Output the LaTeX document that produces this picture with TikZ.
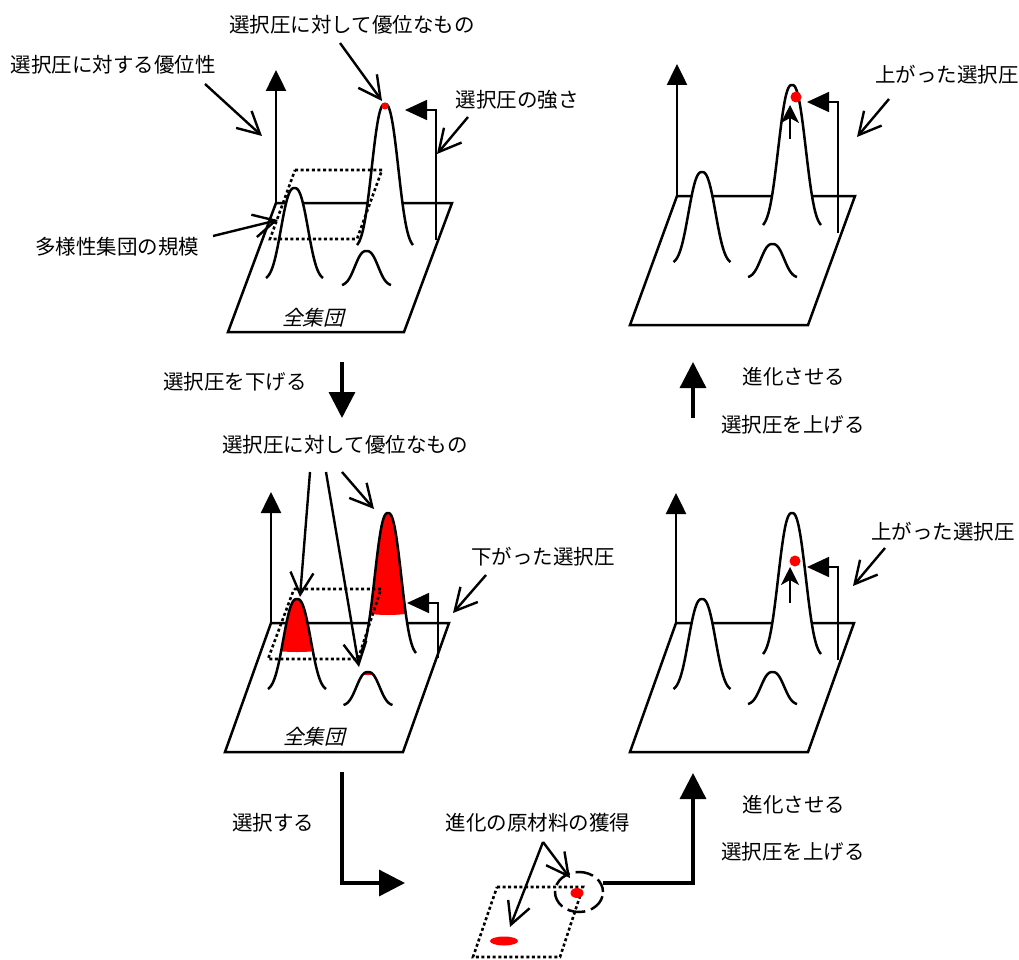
\documentclass[tikz,border=0pt]{standalone}
\usepackage{fontspec}
\newfontfamily\jp{Noto Sans CJK JP}
\newfontfamily\jpit[FakeSlant=0.25]{Noto Sans CJK JP}
\usetikzlibrary{arrows.meta}
\newcommand\peakpath[4]{plot[domain=-1:1,samples=61,smooth,variable=\t] ({#1+#4*\t},{#2-(#2-#3)*(exp(-(1.7*\t)^2*sqrt(1.7*abs(\t)))-0.023)/0.977})}
\newcommand\mypeak[4]{%
  \fill[white] \peakpath{#1}{#2}{#3}{#4} -- cycle;
  \draw[pk] \peakpath{#1}{#2}{#3}{#4};}
\newcommand\myredpeak[6]{%
  \fill[white] \peakpath{#1}{#2}{#3}{#4} -- cycle;
  \begin{scope}
    \clip \peakpath{#1}{#2}{#3}{#4} -- cycle;
    \fill[red] (#1-#4,#3-5) rectangle (#1+#4,#5);
    \fill[red] (#1,#5) ellipse[x radius=#4pt, y radius=#6pt];
  \end{scope}
  \draw[pk] \peakpath{#1}{#2}{#3}{#4};}
\tikzset{
  pk/.style={line width=2.5pt, line join=round},
  plane/.style={line width=2.5pt, line join=miter},
  axis/.style={line width=2.5pt, -{Triangle[length=21pt,width=20pt]}},
  dots/.style={line width=2.6pt, dash pattern=on 3pt off 2.6pt},
  press/.style={line width=1.6pt, -{Triangle[length=22pt,width=20pt]}},
  uparr/.style={line width=1.8pt, -{Stealth[length=18pt,width=18pt,inset=5pt]}},
  lab/.style={font=\jp\fontsize{20.5}{24}\selectfont, inner sep=0pt},
  labit/.style={font=\jpit\fontsize{20.5}{24}\selectfont, inner sep=0pt},
  barb/.style={line width=2.4pt, -{Straight Barb[length=22pt,width=23pt]}},
  bigarr/.style={line width=3.3pt, line join=miter, -{Triangle[length=26pt,width=26pt]}},
}
\begin{document}
\begin{tikzpicture}[x=1pt,y=-1pt]
\useasboundingbox (0,0) rectangle (1019,960);

% ================= top-left panel =================
\draw[plane] (276,203) -- (228,332) -- (404,332) -- (452,203) -- cycle;
\coordinate (tlo) at (276,203);
\coordinate (tlax) at (276,70);
\draw[axis] (tlo) -- (tlax);
\mypeak{294.5}{278}{188}{28.5}
\mypeak{385}{245}{104}{28}
\mypeak{366.5}{285}{251}{24.5}
\draw[dots] (295,170) -- (382,170) -- (357,239) -- (270,239) -- cycle;
\coordinate (tlp0) at (436,240);
\coordinate (tlp1) at (436,110);
\coordinate (tlp2) at (405,110);
\draw[press] (tlp0) -- (tlp1) -- (tlp2);
\fill[red] (385,106) circle[radius=3.5pt];
\node[labit] (tlall) at (313,318) {全集団};

\node[lab] (l1) at (113,65) {選択圧に対する優位性};
\node[lab] (l2) at (352,25) {選択圧に対して優位なもの};
\node[lab] (l3) at (517,100) {選択圧の強さ};
\node[lab] (l4) at (117,247) {多様性集団の規模};
\coordinate (l1s) at (205,84);  \coordinate (l1e) at (262,136);
\coordinate (l2s) at (340,43);  \coordinate (l2e) at (382,101);
\coordinate (l3s) at (468,117); \coordinate (l3e) at (437,154);
\coordinate (l4s) at (213,236); \coordinate (l4e) at (278,220);
\draw[barb] (l1s) -- (l1e);
\draw[barb] (l2s) -- (l2e);
\draw[barb] (l3s) -- (l3e);
\draw[barb] (l4s) -- (l4e);

% ================= top-right panel =================
\draw[plane] (677,196) -- (630,325) -- (808,325) -- (855,196) -- cycle;
\coordinate (tro) at (677,196);
\coordinate (trax) at (677,64);
\draw[axis] (tro) -- (trax);
\mypeak{702}{262}{172}{28.5}
\mypeak{792}{225}{85}{29}
\mypeak{772.5}{277}{244}{24.5}
\coordinate (tru0) at (790,139);
\coordinate (tru1) at (790,105);
\draw[uparr] (tru0) -- (tru1);
\fill[red] (796,97) circle[radius=5.5pt];
\coordinate (trp0) at (838,233);
\coordinate (trp1) at (838,102);
\coordinate (trp2) at (807,102);
\draw[press] (trp0) -- (trp1) -- (trp2);
\node[lab] (l5) at (947,75) {上がった選択圧};
\coordinate (l5s) at (889,99); \coordinate (l5e) at (857,137);
\draw[barb] (l5s) -- (l5e);

% ================= middle arrows =================
\node[lab] (l6) at (235,382) {選択圧を下げる};
\coordinate (d0) at (342,362); \coordinate (d1) at (342,418);
\draw[bigarr] (d0) -- (d1);
\coordinate (u0) at (693,418); \coordinate (u1) at (693,362);
\draw[bigarr] (u0) -- (u1);
\node[lab] (l7) at (794,377) {進化させる};
\node[lab] (l8) at (793,425) {選択圧を上げる};

% ================= bottom-left panel =================
\draw[plane] (271,623) -- (225,752) -- (403,752) -- (449,623) -- cycle;
\coordinate (blo) at (271,623);
\coordinate (blax) at (271,492);
\draw[axis] (blo) -- (blax);
\myredpeak{297}{689}{599}{29}{648}{4}
\myredpeak{388}{653}{513}{28}{610}{5}
\myredpeak{368}{705}{672}{24.5}{673}{2}
\draw[dots] (294,589) -- (381,589) -- (358,659) -- (268,659) -- cycle;
\coordinate (blp0) at (438,658);
\coordinate (blp1) at (438,603);
\coordinate (blp2) at (407,603);
\draw[press] (blp0) -- (blp1) -- (blp2);
\node[labit] (blall) at (314,737) {全集団};
\node[lab] (l9) at (345,445) {選択圧に対して優位なもの};
\node[lab] (l10) at (543,557) {下がった選択圧};
\coordinate (l9a) at (310,472); \coordinate (l9ae) at (300,597);
\coordinate (l9b) at (326,472); \coordinate (l9be) at (359,667);
\coordinate (l9c) at (342,472); \coordinate (l9ce) at (374,509);
\draw[barb] (l9a) -- (l9ae);
\draw[barb] (l9b) -- (l9be);
\draw[barb] (l9c) -- (l9ce);
\coordinate (l10s) at (486,575); \coordinate (l10e) at (453,613);
\draw[barb] (l10s) -- (l10e);

% ================= bottom-right panel =================
\draw[plane] (676,623) -- (630,752) -- (808,752) -- (854,623) -- cycle;
\coordinate (bro) at (676,623);
\coordinate (brax) at (676,493);
\draw[axis] (bro) -- (brax);
\mypeak{702}{689}{599}{28.5}
\mypeak{792}{654}{513}{29}
\mypeak{772.5}{704}{672}{24.5}
\coordinate (bru0) at (790,603);
\coordinate (bru1) at (790,567);
\draw[uparr] (bru0) -- (bru1);
\fill[red] (795,561) circle[radius=5.5pt];
\coordinate (brp0) at (838,660);
\coordinate (brp1) at (838,567);
\coordinate (brp2) at (807,567);
\draw[press] (brp0) -- (brp1) -- (brp2);
\node[lab] (l11) at (943,532) {上がった選択圧};
\coordinate (l11s) at (885,548); \coordinate (l11e) at (853,586);
\draw[barb] (l11s) -- (l11e);

% ================= bottom middle =================
\node[lab] (l12) at (273,823) {選択する};
\node[lab] (l13) at (538,823) {進化の原材料の獲得};
\coordinate (s0) at (342,772); \coordinate (s1) at (342,883); \coordinate (s2) at (405,883);
\draw[bigarr] (s0) -- (s1) -- (s2);
\draw[dots] (497,887) -- (583,887) -- (560,957) -- (473,957) -- cycle;
\fill[red] (504,941) ellipse[x radius=14pt, y radius=4.5pt];
\fill[red] (577,893) ellipse[x radius=6.5pt, y radius=5pt];
\draw[line width=2.5pt, dash pattern=on 18pt off 6pt, dash phase=4pt] (579,892) ellipse[x radius=24pt, y radius=20pt];
\coordinate (e0) at (603,883); \coordinate (e1) at (693,883); \coordinate (e2) at (693,773);
\draw[bigarr] (e0) -- (e1) -- (e2);
\node[lab] (l14) at (794,805) {進化させる};
\node[lab] (l15) at (793,852) {選択圧を上げる};
\coordinate (l13s) at (543,842);
\coordinate (l13a) at (510,927);
\coordinate (l13b) at (570,878);
\draw[barb] (l13s) -- (l13a);
\draw[barb] (l13s) -- (l13b);
\end{tikzpicture}
\end{document}
